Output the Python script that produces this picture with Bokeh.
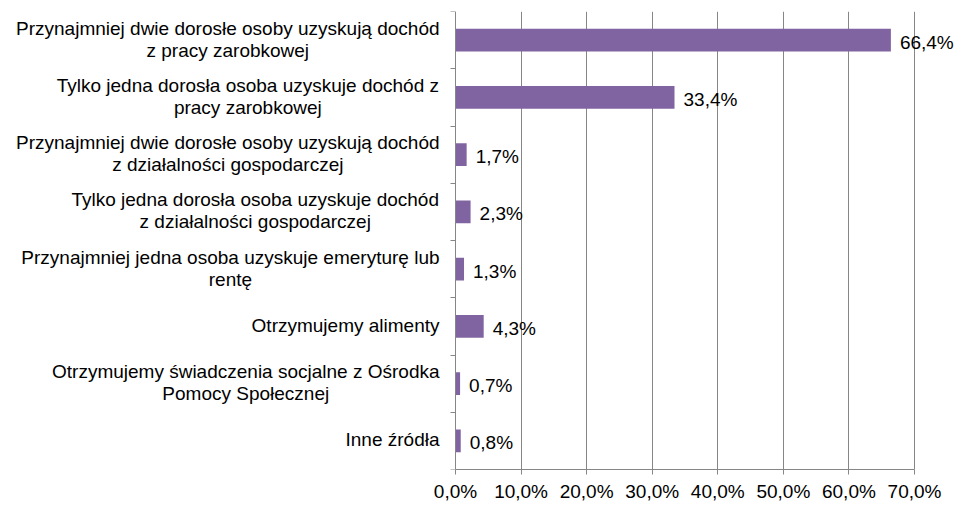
from bokeh.plotting import figure
from bokeh.models import FixedTicker, ColumnDataSource
from bokeh.core.properties import value
from bokeh.embed import file_html
from bokeh.resources import INLINE

categories = [
    "Przynajmniej dwie dorosłe osoby uzyskują dochód\nz pracy zarobkowej",
    "Tylko jedna dorosła osoba uzyskuje dochód z\npracy zarobkowej",
    "Przynajmniej dwie dorosłe osoby uzyskują dochód\nz działalności gospodarczej",
    "Tylko jedna dorosła osoba uzyskuje dochód\nz działalności gospodarczej",
    "Przynajmniej jedna osoba uzyskuje emeryturę lub\nrentę",
    "Otrzymujemy alimenty",
    "Otrzymujemy świadczenia socjalne z Ośrodka\nPomocy Społecznej",
    "Inne źródła",
]
values = [66.4, 33.4, 1.7, 2.3, 1.3, 4.3, 0.7, 0.8]
x_ticks = [0, 10, 20, 30, 40, 50, 60, 70]

FONT = "Liberation Sans"
FS = 19
BAR_COLOR = "#8064A2"
GRID = "#868686"

W, H = 958, 504
TOP, BOTTOM = 11, 31
AXIS_X0_PX = 455.0      # pixel position of 0 %
AXIS_X1_PX = 914.0      # pixel position of 70 %
XMAX = 70.0
scale = (AXIS_X1_PX - AXIS_X0_PX) / XMAX   # px per unit
x_start = -AXIS_X0_PX / scale
x_end = XMAX + (W - AXIS_X1_PX) / scale

# Arial / Liberation Sans advance widths (per 1000 em)
AW = {' ': 278, ',': 278, '%': 889, 'a': 556, 'b': 556, 'c': 500, 'd': 556, 'e': 556,
      'f': 278, 'g': 556, 'h': 556, 'i': 222, 'j': 222, 'k': 500, 'l': 222, 'm': 833,
      'n': 556, 'o': 556, 'p': 556, 'q': 556, 'r': 333, 's': 500, 't': 278, 'u': 556,
      'v': 500, 'w': 722, 'x': 500, 'y': 500, 'z': 500, 'ą': 556, 'ć': 500, 'ę': 556,
      'ł': 222, 'ń': 556, 'ó': 556, 'ś': 500, 'ź': 500, 'ż': 500, 'I': 278, 'O': 778,
      'P': 667, 'S': 667, 'T': 611, 'Ś': 667, 'Ó': 778}


def text_w(s):
    return sum(AW.get(c, 556) for c in s) * FS / 1000.0


n = len(categories)
ypos = [n - 0.5 - i for i in range(n)]
labels = [f"{v:.1f}".replace(".", ",") + "%" for v in values]
cat_x = [-(16 + max(text_w(s) for s in c.split("\n")) / 2.0) / scale for c in categories]

src = ColumnDataSource(dict(y=ypos, v=values, lab=labels))
csrc = ColumnDataSource(dict(x=cat_x, y=ypos, t=categories))

p = figure(width=W, height=H, x_range=(x_start, x_end), y_range=(0, n),
           output_backend="svg", toolbar_location=None,
           min_border_left=0, min_border_right=0,
           min_border_top=TOP, min_border_bottom=BOTTOM)
p.outline_line_color = None
p.background_fill_color = "white"
p.border_fill_color = "white"

p.hbar(y="y", right="v", left=0, height=0.4, source=src,
       fill_color=BAR_COLOR, line_color=None)

p.text(x="v", y="y", text="lab", source=src, x_offset=9, y_offset=2,
       text_align="left", text_baseline="middle",
       text_font=value(FONT), text_font_size=f"{FS}px", text_color="black")

p.text(x="x", y="y", text="t", source=csrc, y_offset=-1,
       text_align="center", text_baseline="middle", text_line_height=1.05,
       text_font=value(FONT), text_font_size=f"{FS}px", text_color="black")

# x axis
p.xaxis.bounds = (0, XMAX)
p.xaxis.ticker = FixedTicker(ticks=x_ticks)
p.xaxis.major_label_overrides = {t: f"{t:.1f}".replace(".", ",") + "%" for t in x_ticks}
p.xaxis.major_label_text_font = FONT
p.xaxis.major_label_text_font_size = f"{FS}px"
p.xaxis.major_label_text_color = "black"
p.xaxis.major_label_standoff = 6
p.xaxis.axis_line_color = GRID
p.xaxis.major_tick_line_color = GRID
p.xaxis.major_tick_out = 5
p.xaxis.major_tick_in = 0
p.xaxis.minor_tick_line_color = None

# y axis at x = 0: category boundary ticks, no labels
p.yaxis.fixed_location = 0
p.yaxis.ticker = FixedTicker(ticks=list(range(n + 1)))
p.yaxis.major_label_overrides = {i: "" for i in range(n + 1)}
p.yaxis.major_label_standoff = 0
p.yaxis.axis_line_color = GRID
p.yaxis.major_tick_line_color = GRID
p.yaxis.major_tick_out = 5
p.yaxis.major_tick_in = 0
p.yaxis.minor_tick_line_color = None

p.xgrid.ticker = FixedTicker(ticks=x_ticks[1:])
p.xgrid.grid_line_color = GRID
p.ygrid.grid_line_color = None

open("out.html", "w").write(file_html(p, INLINE))
